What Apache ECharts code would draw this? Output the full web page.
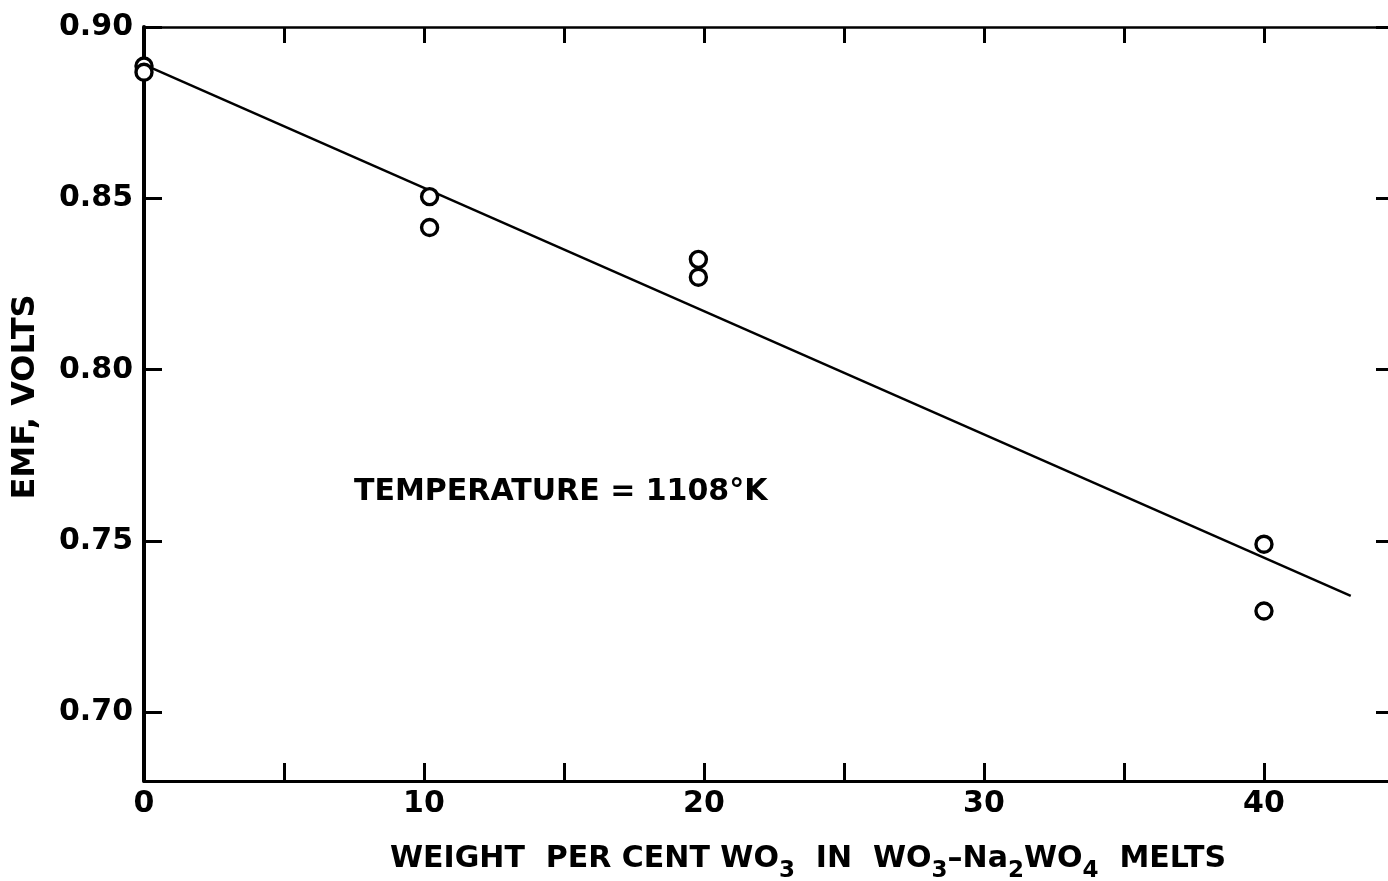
<!DOCTYPE html>
<html>
<head>
<meta charset="utf-8">
<title>EMF vs WO3 content</title>
<script src="https://cdn.jsdelivr.net/npm/echarts@6/dist/echarts.min.js"></script>
<style>
  html, body { margin: 0; padding: 0; background: #fff; }
  #chart { width: 1388px; height: 881px; }
</style>
</head>
<body>
<div id="chart"></div>
<script>
// Measured EMF (volts) against weight per cent WO3 in the melt, T = 1108 K
const wtPercent = [0, 0, 10.2, 10.2, 19.8, 19.8, 40, 40];
const emfVolts  = [0.8886, 0.8868, 0.8505, 0.8415, 0.8322, 0.8270, 0.7491, 0.7296];

// Straight-line fit drawn through the points
const fitX = [0, 43.1];
const fitY = [0.889, 0.734];

// Axis ticks
const xTickValues = [0, 5, 10, 15, 20, 25, 30, 35, 40];
const xLabelValues = [0, 10, 20, 30, 40];
const yTickValues = [0.70, 0.75, 0.80, 0.85, 0.90];

const FONT = 'DejaVu Sans';
const INK = '#000';

const chart = echarts.init(document.getElementById('chart'), null, { renderer: 'canvas' });

const points = wtPercent.map((x, i) => [x, emfVolts[i]]);
const fitLine = fitX.map((x, i) => [x, fitY[i]]);

const xMin = 0, xMax = 44.43;
const yMin = 0.68, yMax = 0.90;

const subStyle = {
  fontFamily: FONT, fontWeight: 'bold', fontSize: 23, color: INK,
  lineHeight: 20, padding: [19, 0, 0, 0], verticalAlign: 'top'
};

const option = {
  backgroundColor: '#fff',
  animation: false,
  grid: { left: 144, right: 0, top: 27, bottom: 100, containLabel: false, outerBoundsMode: 'none' },
  xAxis: [
    {
      type: 'value', position: 'bottom', min: xMin, max: xMax,
      name: 'WEIGHT  PER CENT WO{sub|3}  IN  WO{sub|3}–Na{sub|2}WO{sub|4}  MELTS',
      nameLocation: 'middle', nameGap: 60,
      nameTextStyle: {
        fontFamily: FONT, fontWeight: 'bold', fontSize: 30, color: INK, lineHeight: 36,
        padding: [0, 0, 0, 84],
        rich: { sub: subStyle }
      },
      axisLine: { show: true, onZero: false, lineStyle: { color: INK, width: 3 } },
      axisTick: { show: true, inside: true, length: 18, customValues: xTickValues,
                  lineStyle: { color: INK, width: 3 } },
      axisLabel: { show: true, customValues: xLabelValues, margin: 8,
                   fontFamily: FONT, fontWeight: 'bold', fontSize: 30, color: INK },
      splitLine: { show: false }
    },
    {
      type: 'value', position: 'top', min: xMin, max: xMax,
      axisLine: { show: true, onZero: false, lineStyle: { color: INK, width: 2.5 } },
      axisTick: { show: true, inside: true, length: 16, customValues: xTickValues,
                  lineStyle: { color: INK, width: 3 } },
      axisLabel: { show: false },
      splitLine: { show: false }
    }
  ],
  yAxis: [
    {
      type: 'value', position: 'left', min: yMin, max: yMax,
      name: 'EMF, VOLTS', nameLocation: 'middle', nameGap: 102, nameRotate: 90,
      nameTextStyle: { fontFamily: FONT, fontWeight: 'bold', fontSize: 32, color: INK,
                       padding: [0, 0, 0, 14] },
      axisLine: { show: true, onZero: false, lineStyle: { color: INK, width: 4 } },
      axisTick: { show: true, inside: true, length: 18, customValues: yTickValues,
                  lineStyle: { color: INK, width: 3 } },
      axisLabel: { show: true, customValues: yTickValues, margin: 11,
                   formatter: v => v.toFixed(2),
                   fontFamily: FONT, fontWeight: 'bold', fontSize: 30, color: INK },
      splitLine: { show: false }
    },
    {
      type: 'value', position: 'right', min: yMin, max: yMax,
      axisLine: { show: false, onZero: false },
      axisTick: { show: true, inside: true, length: 12, customValues: yTickValues,
                  lineStyle: { color: INK, width: 3 } },
      axisLabel: { show: false },
      splitLine: { show: false }
    }
  ],
  series: [
    {
      name: 'fit', type: 'line', data: fitLine, xAxisIndex: 0, yAxisIndex: 0,
      showSymbol: false, symbol: 'none', silent: true,
      lineStyle: { color: INK, width: 2.4 }, z: 2
    },
    {
      name: 'measured', type: 'scatter', data: points, xAxisIndex: 0, yAxisIndex: 0,
      symbol: 'circle', symbolSize: 16,
      itemStyle: { color: '#fff', borderColor: INK, borderWidth: 3.4, opacity: 1 },
      z: 3
    }
  ]
};

chart.setOption(option);

// Temperature annotation anchored in data space
const anchor = chart.convertToPixel({ xAxisIndex: 0, yAxisIndex: 0 }, [7.5, 0.7642]);
chart.setOption({
  graphic: [{
    type: 'text', x: anchor[0], y: anchor[1],
    style: {
      text: 'TEMPERATURE = 1108°K',
      fontFamily: FONT, fontWeight: 'bold', fontSize: 30, fill: INK,
      textAlign: 'left', textVerticalAlign: 'middle'
    }
  }]
});
</script>
</body>
</html>
